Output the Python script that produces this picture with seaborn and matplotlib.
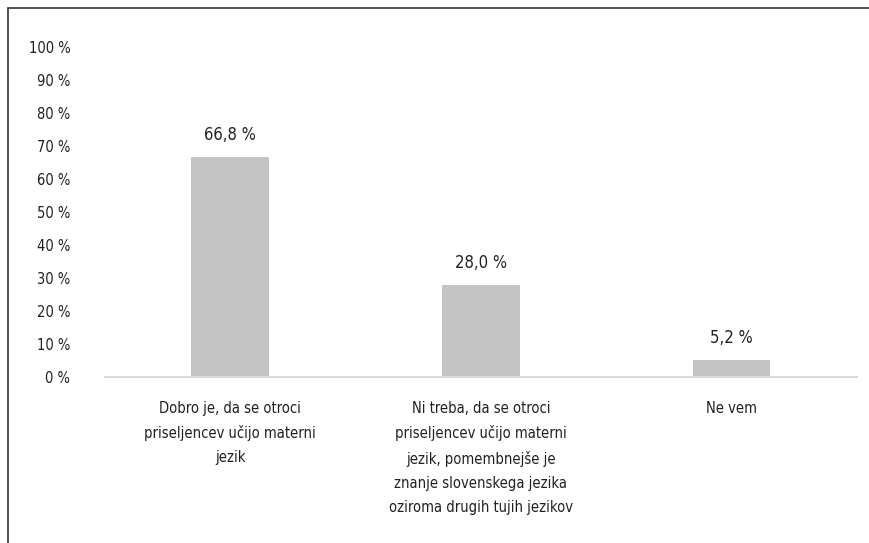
import matplotlib
matplotlib.use("Agg")
import matplotlib.pyplot as plt
from matplotlib.lines import Line2D
from matplotlib import font_manager
import seaborn as sns
import pandas as pd

categories = [
    "Dobro je, da se otroci\npriseljencev učijo materni\njezik",
    "Ni treba, da se otroci\npriseljencev učijo materni\njezik, pomembnejše je\nznanje slovenskega jezika\noziroma drugih tujih jezikov",
    "Ne vem",
]
values = [66.8, 28.0, 5.2]
value_labels = ["66,8 %", "28,0 %", "5,2 %"]
ytick_values = list(range(0, 101, 10))
ytick_labels = [f"{v} %" for v in ytick_values]

sns.set_theme(style="white")

# prefer a narrow face when one is installed
narrow_path = None
for f in font_manager.fontManager.ttflist:
    if f.name == "DejaVu Sans" and f.stretch in ("condensed", "semi-condensed") \
            and f.weight in (400, "normal") and f.style == "normal":
        narrow_path = f.fname
        break
if narrow_path:
    fp_kw = {"fname": narrow_path}
else:
    fp_kw = {"family": ["DejaVu Sans"]}
plt.rcParams["font.family"] = ["DejaVu Sans"]
text_color = "#231f20"


def fp(size):
    return font_manager.FontProperties(size=size, **fp_kw)


df = pd.DataFrame({"cat": categories, "val": values})

fig = plt.figure(figsize=(8.7, 5.43), dpi=100)
ax = fig.add_axes([0.1207, 0.3057, 0.8643, 0.6077])
sns.barplot(data=df, x="cat", y="val", color="#c4c4c4", width=0.31,
            saturation=1, linewidth=0, ax=ax)

ax.set_ylim(0, 100)
ax.set_xlim(-0.5, 2.5)
ax.set_yticks(ytick_values)
ax.set_yticklabels(ytick_labels, color=text_color)
for t in ax.get_yticklabels():
    t.set_fontproperties(fp(10.5))
ax.tick_params(axis="y", length=0, pad=25)
ax.set_xticks([])
ax.set_xlabel("")
ax.set_ylabel("")
for side in ["top", "right", "left"]:
    ax.spines[side].set_visible(False)
ax.spines["bottom"].set_color("#d9d9d9")
ax.spines["bottom"].set_linewidth(1.5)

for i, (v, lab) in enumerate(zip(values, value_labels)):
    ax.annotate(lab, (i, v), xytext=(0, 9), textcoords="offset points",
                ha="center", va="bottom", fontproperties=fp(12),
                color=text_color)

for i, cat in enumerate(categories):
    ax.annotate(cat, (i, 0), xytext=(0, -17), textcoords="offset points",
                ha="center", va="top", fontproperties=fp(10.5),
                color=text_color, linespacing=1.75)

# outer frame (left and top edges)
fig.add_artist(Line2D([8.5 / 870, 8.5 / 870], [0, 1 - 8 / 543],
                      transform=fig.transFigure, color="#444444", lw=1.3))
fig.add_artist(Line2D([8.5 / 870, 1], [1 - 8 / 543, 1 - 8 / 543],
                      transform=fig.transFigure, color="#444444", lw=1.3))

fig.savefig("out.png", dpi=100)
